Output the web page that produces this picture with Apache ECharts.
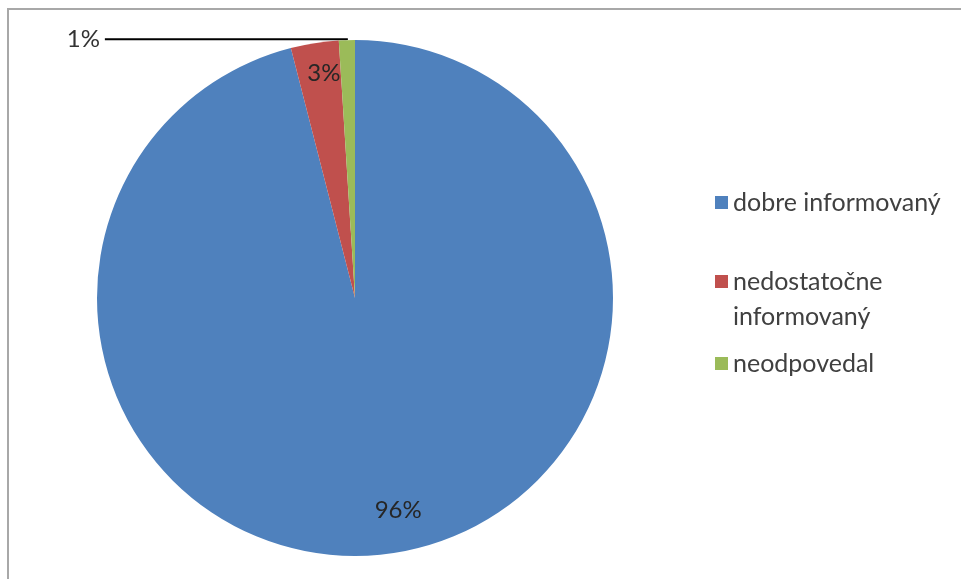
<!DOCTYPE html>
<html>
<head>
<meta charset="utf-8">
<script src="https://cdn.jsdelivr.net/npm/echarts@6/dist/echarts.min.js"></script>
<style>
  html, body { margin: 0; padding: 0; background: #fff; }
  #chart { width: 961px; height: 579px; }
</style>
</head>
<body>
<div id="chart"></div>
<script>
// Survey answers: how well informed the respondents feel
const categories = ['dobre informovaný', 'nedostatočne informovaný', 'neodpovedal'];
const shares = [96, 3, 1];           // percent
const sliceColors = ['#4f81bd', '#c0504d', '#9bbb59'];

const FONT = 'Lato, "Open Sans", sans-serif';
const center = [355, 298];
const R = 258;

// Main pie: the slices, plus the outside label of the smallest slice
const pieData = categories.map((name, i) => {
  const item = { name, value: shares[i], itemStyle: { color: sliceColors[i] } };
  if (i === categories.length - 1) {
    item.label = { show: true };
    item.labelLine = { show: true };
  }
  return item;
});

// Ring over the outer part of the pie, carrying the inner labels near the rim
const labelNudge = [[15, -11], [4, -3], [0, 0]];
const ringData = categories.map((name, i) => ({
  name,
  value: shares[i],
  label: { show: i < categories.length - 1, offset: labelNudge[i] }
}));

const legendText = { fontFamily: FONT, fontSize: 25, color: '#404040' };

const chart = echarts.init(document.getElementById('chart'), null, { renderer: 'canvas' });

chart.setOption({
  backgroundColor: '#ffffff',
  animation: false,
  graphic: [{
    type: 'rect',
    shape: { x: 8, y: 9, width: 1200, height: 1200 },
    style: { fill: 'none', stroke: '#a8a8a8', lineWidth: 2 },
    silent: true,
    z: -1
  }],
  legend: [
    {
      data: [categories[0]],
      orient: 'vertical', left: 710, top: 185,
      itemWidth: 13, itemHeight: 13, itemGap: 0,
      icon: 'rect',
      textStyle: legendText
    },
    {
      data: [categories[1]],
      orient: 'vertical', left: 710, top: 224,
      itemWidth: 13, itemHeight: 13, itemGap: 0,
      icon: 'rect',
      // first line sits level with the marker, second line below it
      formatter: n => '\n' + n.split(' ').join('\n'),
      textStyle: Object.assign({}, legendText, { lineHeight: 35 })
    },
    {
      data: [categories[2]],
      orient: 'vertical', left: 710, top: 346,
      itemWidth: 13, itemHeight: 13, itemGap: 0,
      icon: 'rect',
      textStyle: legendText
    }
  ],
  series: [
    {
      type: 'pie',
      center: center,
      radius: [0, R],
      startAngle: 90,
      clockwise: true,
      avoidLabelOverlap: false,
      data: pieData,
      itemStyle: { borderWidth: 0 },
      label: {
        show: false,
        position: 'outside',
        formatter: '{c}%',
        fontFamily: FONT, fontSize: 24, color: '#333333',
        distanceToLabelLine: 5
      },
      labelLine: {
        show: false,
        length: 1,
        length2: 242,
        smooth: false,
        lineStyle: { color: '#000000', width: 2 }
      },
      emphasis: { disabled: true }
    },
    {
      type: 'pie',
      center: center,
      radius: [R * 0.72, R],
      startAngle: 90,
      clockwise: true,
      silent: true,
      data: ringData,
      itemStyle: { color: 'rgba(0,0,0,0)' },
      label: {
        position: 'inside',
        formatter: '{c}%',
        fontFamily: FONT, fontSize: 24, color: '#262626'
      },
      labelLine: { show: false },
      emphasis: { disabled: true }
    }
  ]
});
</script>
</body>
</html>
